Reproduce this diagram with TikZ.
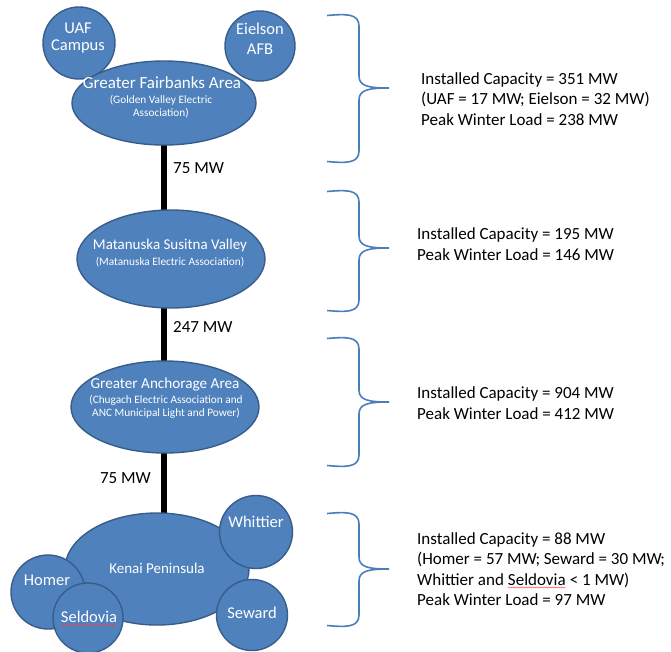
\documentclass[tikz,border=0pt]{standalone}
\usepackage{fontspec}
\setmainfont{Carlito}
\usetikzlibrary{shapes.geometric,decorations.pathmorphing}
\pgfdeclarelayer{bg}
\pgfsetlayers{bg,main}
\definecolor{nodefill}{HTML}{4F81BD}
\definecolor{nodeline}{HTML}{385D8A}
\definecolor{bracecol}{HTML}{4A7EBB}
\newcommand\redwave[1]{\tikz[baseline=(rw.base)]{\node[inner sep=0pt,outer sep=0pt,anchor=base] (rw) at (0,0) {#1};\draw[red!75, line width=0.4pt, decorate, decoration={snake, amplitude=0.5pt, segment length=2pt}] ([yshift=-2.4pt]rw.base west) -- ([yshift=-2.4pt]rw.base east);}}
\newcommand\curlybrace[3]{%
  \draw[bracestyle] (327,{#1+1.5}) .. controls (345,{#1}) and (359,{#1-1}) .. (359,{#1+12})
    -- (359,{#2-12}) .. controls (359,{#2-2}) and (368,{#2}) .. (389,{#2})
    .. controls (368,{#2}) and (359,{#2+2}) .. (359,{#2+12})
    -- (359,{#3-12}) .. controls (359,{#3+1}) and (345,{#3}) .. (327,{#3-1.5});}
\tikzset{
  region/.style={ellipse, fill=nodefill, draw=nodeline, line width=1.4pt, inner sep=0pt},
  town/.style={circle, fill=nodefill, draw=nodeline, line width=1.4pt, inner sep=0pt},
  wtext/.style={text=white, inner sep=0pt, align=center},
  bigw/.style={wtext, font=\fontsize{16.5}{17}\selectfont},
  midw/.style={wtext, font=\fontsize{15}{17}\selectfont},
  smallw/.style={wtext, font=\fontsize{11.3}{13}\selectfont},
  link/.style={line width=5.5pt, black},
  mw/.style={font=\fontsize{17}{20}\selectfont, inner sep=0pt},
  info/.style={font=\fontsize{17}{20.5}\selectfont, align=left, inner sep=0pt, anchor=west},
  bracestyle/.style={draw=bracecol, line width=1.6pt}
}
\begin{document}
\begin{tikzpicture}[x=1pt,y=-1pt]
\useasboundingbox (0,0) rectangle (671,651);
% Fairbanks
\node[town, minimum size=72pt] (uaf) at (79,43) {};
\node[town, minimum size=70pt] (eiel) at (260,46) {};
\node[region, minimum width=184pt, minimum height=84pt] (fair) at (164,103) {};
\node[bigw, font=\fontsize{16.5}{17}\selectfont] (uaft) at (78,38) {UAF\\Campus};
\node[bigw, font=\fontsize{16.5}{20}\selectfont] (eielt) at (260,39) {Eielson\\AFB};
\node[bigw, font=\fontsize{17}{17}\selectfont] (fairt) at (162,83) {Greater Fairbanks Area};
\node[smallw] (fairs) at (161,107) {(Golden Valley Electric\\Association)};
% Matanuska
\node[region, minimum width=188pt, minimum height=98pt] (mat) at (171,259) {};
\node[midw] (matt) at (170,245) {Matanuska Susitna Valley};
\node[smallw] (mats) at (170,262) {(Matanuska Electric Association)};
% Anchorage
\node[region, minimum width=188pt, minimum height=92pt] (anch) at (165,407) {};
\node[midw, font=\fontsize{15.2}{17}\selectfont] (ancht) at (165,385) {Greater Anchorage Area};
\node[smallw] (anchs) at (166,406.5) {(Chugach Electric Association and\\ANC Municipal Light and Power)};
% Kenai
\node[region, minimum width=184pt, minimum height=112pt] (kenai) at (157,569) {};
\node[midw] (kenait) at (157,568) {Kenai Peninsula};
\node[town, minimum size=74pt] (homer) at (48,592) {};
\node[town, minimum size=70pt] (seld) at (88,618) {};
\node[town, minimum size=73pt] (whit) at (256,532) {};
\node[town, minimum size=71pt] (sew) at (252,615) {};
\node[bigw] (homert) at (47,580) {Homer};
\node[bigw] (seldt) at (89,618) {\redwave{Seldovia}};
\node[bigw] (whitt) at (256,522) {Whittier};
\node[bigw] (sewt) at (252,613) {Seward};
% links
\begin{pgfonlayer}{bg}
\fill[white] (0,0) rectangle (671,651);
\draw[link] (fair.center) -- (fair.center |- mat.center);
\draw[link] (mat.center -| fair.center) -- (fair.center |- anch.center);
\draw[link] (anch.center -| fair.center) -- (fair.center |- kenai.center);
\end{pgfonlayer}
\node[mw, anchor=base west] (l1) at (173,173) {75 MW};
\node[mw, anchor=base west] (l2) at (173,332) {247 MW};
\node[mw, anchor=base east] (l3) at (151,483) {75 MW};
% braces
\curlybrace{14}{88}{163}
\curlybrace{190}{248}{312}
\curlybrace{337}{402}{467}
\curlybrace{512}{569}{627}
% info
\node[info] (i1) at (421,99) {Installed Capacity = 351 MW\\(UAF = 17 MW; Eielson = 32 MW)\\Peak Winter Load = 238 MW};
\node[info] (i2) at (417,244) {Installed Capacity = 195 MW\\Peak Winter Load = 146 MW};
\node[info] (i3) at (417,403) {Installed Capacity = 904 MW\\Peak Winter Load = 412 MW};
\node[info] (i4) at (417,569) {Installed Capacity = 88 MW\\(Homer = 57 MW; Seward = 30 MW;\\Whittier and \redwave{Seldovia} < 1 MW)\\Peak Winter Load = 97 MW};
\end{tikzpicture}
\end{document}
